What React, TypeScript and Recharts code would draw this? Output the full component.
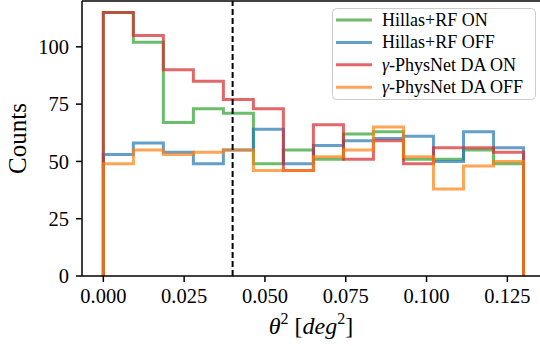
import {
  Legend,
  Line,
  LineChart,
  ReferenceLine,
  XAxis,
  YAxis,
} from 'recharts'

// theta^2 histogram, 14 bins over [0, 0.13]
const BIN_EDGES = [
  0, 0.00929, 0.01857, 0.02786, 0.03714, 0.04643, 0.05571, 0.065, 0.07429, 0.08357, 0.09286,
  0.10214, 0.11143, 0.12071, 0.13,
]

const HILLAS_ON = [115, 102, 67, 73, 71, 49, 55, 51, 62, 63, 51, 51, 55, 49]
const HILLAS_OFF = [53, 58, 54, 49, 55, 64, 49, 57, 59, 60, 61, 50, 63, 56]
const PHYSNET_ON = [115, 105, 90, 85, 77, 73, 46, 66, 51, 59, 49, 56, 56, 54]
const PHYSNET_OFF = [49, 55, 53, 54, 55, 46, 46, 52, 55, 65, 52, 38, 48, 50]

const X_TICKS = [0, 0.025, 0.05, 0.075, 0.1, 0.125]
const Y_TICKS = [0, 25, 50, 75, 100]
const THETA_CUT = 0.04

const FONT = 'Liberation Serif, DejaVu Serif, serif'

const SERIES = [
  { key: 'hillas_on', name: 'Hillas+RF ON', color: '#2ca02c', values: HILLAS_ON },
  { key: 'hillas_off', name: 'Hillas+RF OFF', color: '#1f77b4', values: HILLAS_OFF },
  { key: 'physnet_on', name: 'γ-PhysNet DA ON', color: '#d62728', values: PHYSNET_ON },
  { key: 'physnet_off', name: 'γ-PhysNet DA OFF', color: '#ff7f0e', values: PHYSNET_OFF },
]

// matplotlib histtype="step": rise at the first edge, flat tops, drop at the last edge
function stepPoints(values: number[]) {
  const pts = [{ x: BIN_EDGES[0], y: 0 }]
  values.forEach((v, i) => {
    pts.push({ x: BIN_EDGES[i], y: v })
    pts.push({ x: BIN_EDGES[i + 1], y: v })
  })
  pts.push({ x: BIN_EDGES[values.length], y: 0 })
  return pts
}

function XLabel(props: any) {
  const vb = props.viewBox
  const cx = vb.x + vb.width / 2
  const y = vb.y + 58
  return (
    <text x={cx} y={y} textAnchor="middle" fontSize={24} fontFamily={FONT} fill="#000">
      <tspan fontStyle="italic">θ</tspan>
      <tspan dy={-10} fontSize={16}>2</tspan>
      <tspan dy={10}>{' ['}</tspan>
      <tspan fontStyle="italic">deg</tspan>
      <tspan dy={-10} fontSize={16}>2</tspan>
      <tspan dy={10}>]</tspan>
    </text>
  )
}

function YLabel(props: any) {
  const vb = props.viewBox
  const cx = vb.x + 17
  const cy = vb.y + vb.height / 2
  return (
    <text
      x={cx}
      y={cy}
      textAnchor="middle"
      dominantBaseline="central"
      transform={`rotate(-90 ${cx} ${cy})`}
      fontSize={25}
      fontFamily={FONT}
      fill="#000"
    >
      Counts
    </text>
  )
}

// legend drawn as svg so it shares the tick-label font rendering
function LegendBox() {
  return (
    <svg width={204} height={93} style={{ display: 'block' }}>
      <rect
        x={0.5}
        y={0.5}
        width={203}
        height={91}
        rx={4}
        fill="#fff"
        fillOpacity={0.8}
        stroke="#cccccc"
      />
      {SERIES.map((s, i) => {
        const cy = 12 + i * 22.4
        return (
          <g key={s.key}>
            <line x1={4} x2={40} y1={cy} y2={cy} stroke={s.color} strokeOpacity={0.7} strokeWidth={3} />
            <text
              x={50}
              y={cy}
              dominantBaseline="central"
              fontSize={18}
              fontFamily={FONT}
              fill="#000"
            >
              {s.name.startsWith('γ') ? (
                <>
                  <tspan fontStyle="italic">γ</tspan>
                  <tspan>{s.name.slice(1)}</tspan>
                </>
              ) : (
                s.name
              )}
            </text>
          </g>
        )
      })}
    </svg>
  )
}

export default function App() {
  return (
    <div style={{ position: 'absolute', left: 0, top: 0 }}>
      <LineChart
        width={540}
        height={346}
        margin={{ top: 1, right: 0, bottom: 0, left: 0 }}
        style={{ fontFamily: FONT }}
      >
        <XAxis
          type="number"
          dataKey="x"
          domain={[-0.0066, 0.1351]}
          allowDataOverflow
          ticks={X_TICKS}
          tickFormatter={(v: number) => v.toFixed(3)}
          height={70}
          tickSize={6}
          tickMargin={6}
          axisLine={{ stroke: '#000', strokeWidth: 1.5 }}
          tickLine={{ stroke: '#000', strokeWidth: 1.5 }}
          tick={{ fontSize: 20.5, fill: '#000', fontFamily: FONT }}
          label={<XLabel />}
        />
        <YAxis
          type="number"
          domain={[0, 120]}
          allowDataOverflow
          ticks={Y_TICKS}
          width={82}
          tickSize={6}
          tickMargin={7}
          axisLine={{ stroke: '#000', strokeWidth: 1.5 }}
          tickLine={{ stroke: '#000', strokeWidth: 1.5 }}
          tick={{ fontSize: 20.5, fill: '#000', fontFamily: FONT }}
          label={<YLabel />}
        />
        <ReferenceLine y={120} stroke="#000" strokeWidth={1.5} />
        {SERIES.map((s) => (
          <Line
            key={s.key}
            data={stepPoints(s.values)}
            dataKey="y"
            name={s.name}
            type="linear"
            stroke={s.color}
            strokeOpacity={0.7}
            strokeWidth={3}
            dot={false}
            activeDot={false}
            isAnimationActive={false}
          />
        ))}
        <ReferenceLine
          x={THETA_CUT}
          stroke="#000"
          strokeWidth={2}
          strokeDasharray="6 3"
        />
        <Legend
          layout="vertical"
          align="center"
          verticalAlign="middle"
          content={<LegendBox />}
          wrapperStyle={{ top: 8, left: 332, width: 204, height: 93 }}
        />
      </LineChart>
    </div>
  )
}
